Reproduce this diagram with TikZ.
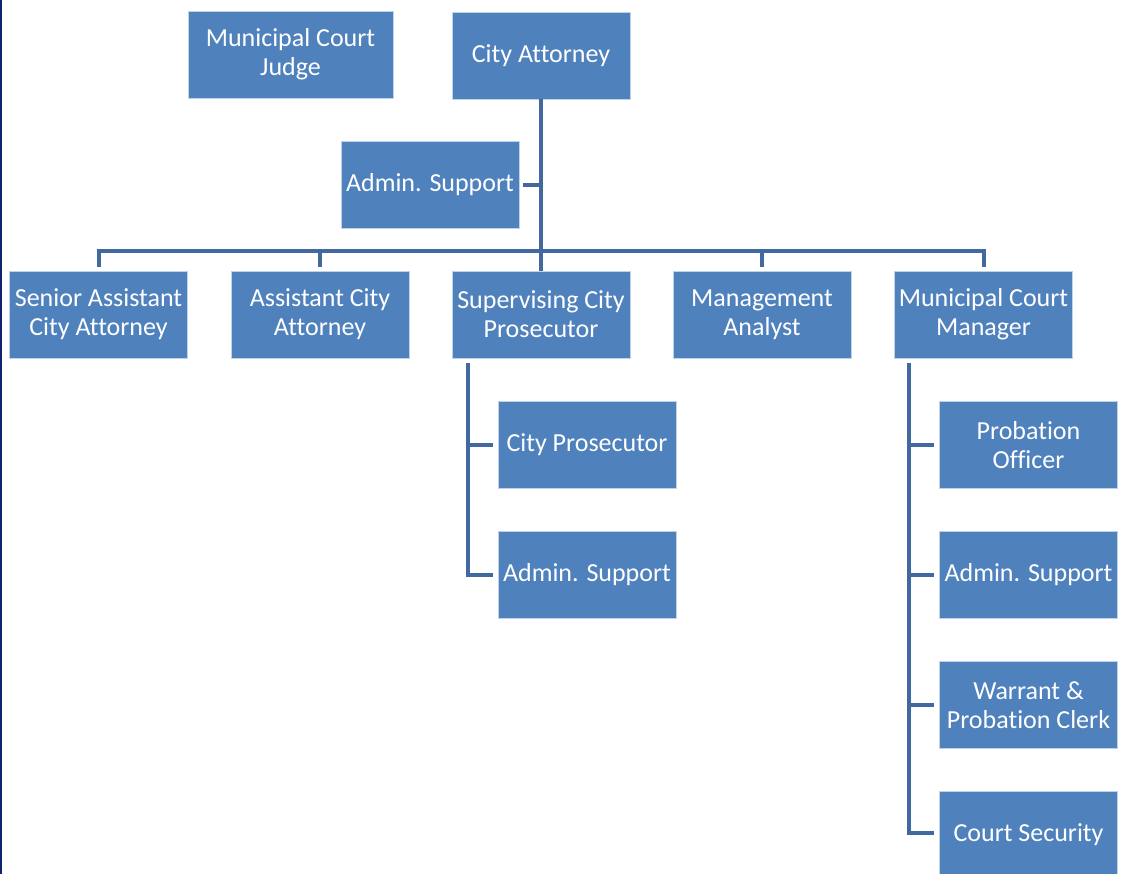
\documentclass[tikz,border=0pt]{standalone}
\usepackage{fontspec}
\setmainfont[Ligatures={NoCommon}]{Carlito}
\definecolor{boxblue}{RGB}{79,129,189}
\definecolor{lineblue}{RGB}{65,105,160}
\definecolor{edgenavy}{RGB}{16,36,110}
\tikzset{
	post/.style={fill=boxblue, draw=white!65!boxblue, line width=0.8pt, text=white,
		align=center, minimum width=178pt, minimum height=87pt, inner sep=0pt,
		font=\fontsize{26}{29}\selectfont},
	link/.style={draw=lineblue, line width=4pt},
}
\begin{document}
\begin{tikzpicture}[x=1pt, y=-1pt]
		\clip (0,0) rectangle (1126,874);
		\fill[white] (0,0) rectangle (1126,874);
		\fill[edgenavy] (0,0) rectangle (2,874);
		% top level
		\node[post, minimum width=205pt] (judge) at (290.5,54.5) {Municipal Court\\Judge};
		\node[post] (ca) at (541,55.5) {City Attorney};
		\node[post] (adm) at (430,185) {Admin. Support};
		% second row
		\node[post] (sac) at (98.5,314.5) {Senior Assistant\\City Attorney};
		\node[post] (aca) at (320,314.5) {Assistant City\\Attorney};
		\node[post] (scp) at (541,314.5) {Supervising City\\Prosecutor};
		\node[post] (ma) at (762,314.5) {Management\\Analyst};
		\node[post] (mcm) at (983.5,314.5) {Municipal Court\\Manager};
		% under the supervising prosecutor
		\node[post] (cp) at (587,445) {City Prosecutor};
		\node[post] (adm2) at (587,575) {Admin. Support};
		% under the court manager
		\node[post] (po) at (1028.5,445) {Probation\\Officer};
		\node[post] (adm3) at (1028.5,575) {Admin. Support};
		\node[post] (wpc) at (1028.5,705) {Warrant \&\\Probation Clerk};
		\node[post] (cs) at (1028.5,835) {Court Security};

		\coordinate (bus) at (541,251);
		\draw[link] (ca.south) -- (scp.north);
		\draw[link, shorten <=4pt] (adm.east) -- (ca.south |- adm.east);
		\draw[link, shorten <=4pt, shorten >=4pt] (sac.north) |- (bus) -| (mcm.north);
		\draw[link, shorten <=4pt] (aca.north) -- (aca.north |- bus);
		\draw[link, shorten <=4pt] (ma.north) -- (ma.north |- bus);

		\coordinate (spine1) at ([xshift=16pt,yshift=-5pt]scp.south west);
		\draw[link, shorten >=5pt] (spine1) |- (adm2.west);
		\draw[link, shorten >=5pt] (spine1 |- cp.west) -- (cp.west);

		\coordinate (spine2) at ([xshift=15pt,yshift=-5pt]mcm.south west);
		\draw[link, shorten >=5pt] (spine2) |- ([yshift=2pt]cs.west);
		\foreach \n in {po,adm3,wpc}
			\draw[link, shorten >=5pt] (spine2 |- \n.west) -- (\n.west);
	\end{tikzpicture}
\end{document}
